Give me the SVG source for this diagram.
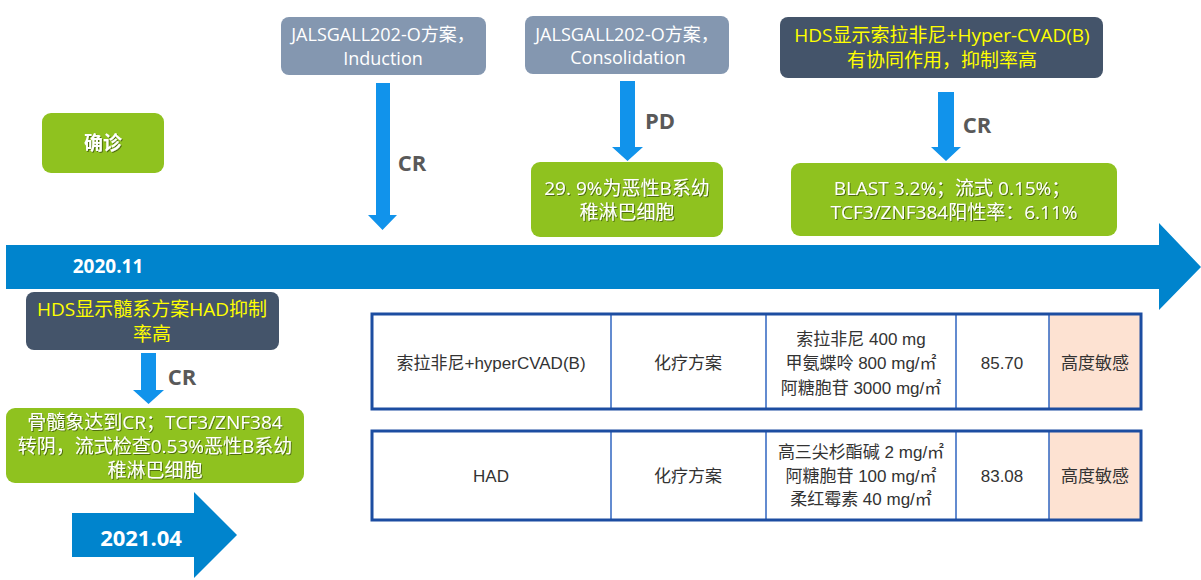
<svg xmlns="http://www.w3.org/2000/svg" width="1201" height="580" viewBox="0 0 1201 580">
<defs>
<filter id="sh" x="-10%" y="-20%" width="120%" height="140%">
<feDropShadow dx="1" dy="1" stdDeviation="0.6" flood-color="#000" flood-opacity="0.45"/>
</filter>
<style>
.t{font-family:"Open Sans","Noto Sans CJK SC",sans-serif;text-anchor:middle;dominant-baseline:central}
.gray{fill:#8497B0}
.dark{fill:#44546A}
.green{fill:#8FC21F}
.band{fill:#0084CD}
.arr{fill:#1193EB}
.w{fill:#FFFFFF;font-size:18px}
.y{fill:#FFFF00;font-size:19px}
.gw{fill:#FFFFFF;font-size:19px;filter:url(#sh)}
.lbl{fill:#595959;font-size:22px;font-weight:bold}
.date{fill:#FFFFFF;font-weight:bold}
.tb{fill:none;stroke:#1C4DA1;stroke-width:3}
.tl{stroke:#2F64C0;stroke-width:1.5}
.tt{font-family:"Liberation Sans","Noto Sans CJK SC",sans-serif;fill:#333333;font-size:17px;text-anchor:middle;dominant-baseline:central}
</style>
</defs>
<rect width="1201" height="580" fill="#FFFFFF"/>

<g id="timeline">
<polygon class="band" points="6,245 1159,245 1159,223 1201,267 1159,310 1159,289 6,289"/>
<text class="t date" x="108" y="266" font-size="19">2020.11</text>
</g>

<g id="node-diagnosis">
<rect class="green" x="42" y="113" width="122" height="60" rx="9"/>
<text class="t gw" x="103" y="143" font-weight="bold">确诊</text>
</g>

<g id="node-induction">
<rect class="gray" x="281" y="17" width="205" height="58" rx="8"/>
<text class="t w" x="383" y="34">JALSGALL202-O方案，</text>
<text class="t w" x="383" y="58">Induction</text>
</g>

<g id="node-consolidation">
<rect class="gray" x="525" y="16" width="204" height="58" rx="8"/>
<text class="t w" x="627" y="34">JALSGALL202-O方案，</text>
<text class="t w" x="628" y="57">Consolidation</text>
</g>

<g id="node-hds-top">
<rect class="dark" x="780" y="17" width="323" height="61" rx="8"/>
<text class="t y" x="942" y="35">HDS显示索拉非尼+Hyper-CVAD(B)</text>
<text class="t y" x="942" y="60">有协同作用，抑制率高</text>
</g>

<g id="node-pd-result">
<rect class="green" x="531" y="162" width="192" height="75" rx="9"/>
<text class="t gw" x="627" y="188">29. 9%为恶性B系幼</text>
<text class="t gw" x="627" y="212">稚淋巴细胞</text>
</g>

<g id="node-cr-result">
<rect class="green" x="791" y="163" width="326" height="73" rx="9"/>
<text class="t gw" x="952" y="188">BLAST 3.2%；流式  0.15%；</text>
<text class="t gw" x="954" y="212">TCF3/ZNF384阳性率：6.11%</text>
</g>

<g id="node-hds-left">
<rect class="dark" x="26" y="292" width="253" height="58" rx="8"/>
<text class="t y" x="152" y="309">HDS显示髓系方案HAD抑制</text>
<text class="t y" x="152" y="334">率高</text>
</g>

<g id="node-cr-left">
<rect class="green" x="6" y="408" width="298" height="75" rx="9"/>
<text class="t gw" x="155" y="422">骨髓象达到CR；TCF3/ZNF384</text>
<text class="t gw" x="155" y="446">转阴，流式检查0.53%恶性B系幼</text>
<text class="t gw" x="155" y="470">稚淋巴细胞</text>
</g>

<g id="node-2021">
<polygon class="band" points="72,513 194,513 194,492 237,535 194,578 194,557 72,557"/>
<text class="t date" x="141" y="537" font-size="22">2021.04</text>
</g>

<g id="connectors">
<polygon class="arr" points="376,83 390,83 390,215 397,215 382.5,230 368,215 376,215"/>
<polygon class="arr" points="620,81 635,81 635,147 643,147 627.5,161 612,147 620,147"/>
<polygon class="arr" points="938,92 954,92 954,147 961,147 946,161 931,147 938,147"/>
<polygon class="arr" points="141,353 156,353 156,390 164,390 148.5,404 133,390 141,390"/>
<text class="t lbl" x="412" y="162">CR</text>
<text class="t lbl" x="660" y="120">PD</text>
<text class="t lbl" x="977" y="124">CR</text>
<text class="t lbl" x="182" y="376">CR</text>
</g>

<g id="table-row-1">
<rect x="1049" y="314" width="92" height="95" fill="#FDE2D2"/>
<line class="tl" x1="611" y1="314" x2="611" y2="409"/>
<line class="tl" x1="766" y1="314" x2="766" y2="409"/>
<line class="tl" x1="956" y1="314" x2="956" y2="409"/>
<line class="tl" x1="1049" y1="314" x2="1049" y2="409"/>
<rect class="tb" x="372" y="314" width="769" height="95"/>
<text class="tt" x="491" y="363">索拉非尼+hyperCVAD(B)</text>
<text class="tt" x="688" y="363">化疗方案</text>
<text class="tt" x="861" y="339">索拉非尼 400 mg</text>
<text class="tt" x="861" y="363">甲氨蝶呤 800 mg/㎡</text>
<text class="tt" x="861" y="388">阿糖胞苷 3000 mg/㎡</text>
<text class="tt" x="1002" y="363">85.70</text>
<text class="tt" x="1095" y="363">高度敏感</text>
</g>

<g id="table-row-2">
<rect x="1049" y="431" width="92" height="89" fill="#FDE2D2"/>
<line class="tl" x1="611" y1="431" x2="611" y2="520"/>
<line class="tl" x1="766" y1="431" x2="766" y2="520"/>
<line class="tl" x1="956" y1="431" x2="956" y2="520"/>
<line class="tl" x1="1049" y1="431" x2="1049" y2="520"/>
<rect class="tb" x="372" y="431" width="769" height="89"/>
<text class="tt" x="491" y="476">HAD</text>
<text class="tt" x="688" y="476">化疗方案</text>
<text class="tt" x="861" y="452">高三尖杉酯碱 2 mg/㎡</text>
<text class="tt" x="861" y="476">阿糖胞苷 100 mg/㎡</text>
<text class="tt" x="861" y="499">柔红霉素 40 mg/㎡</text>
<text class="tt" x="1002" y="476">83.08</text>
<text class="tt" x="1095" y="476">高度敏感</text>
</g>
</svg>
